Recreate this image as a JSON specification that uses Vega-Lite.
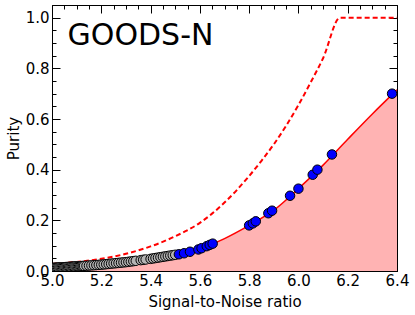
{
  "$schema": "https://vega.github.io/schema/vega-lite/v6.json",
  "width": 345,
  "height": 266,
  "autosize": {"type": "none"},
  "padding": {"left": 52, "top": 5, "right": 18, "bottom": 44},
  "background": "white",
  "config": {
    "view": {"stroke": "black", "strokeWidth": 1},
    "font": "DejaVu Sans",
    "axis": {
      "labelFont": "DejaVu Sans",
      "labelFontSize": 15,
      "labelColor": "black",
      "titleFont": "DejaVu Sans",
      "titleFontSize": 15,
      "titleFontWeight": "normal",
      "titleColor": "black",
      "domainColor": "black",
      "tickColor": "black",
      "grid": false,
      "labelOverlap": false,
      "labelFlush": false
    }
  },
  "datasets": {
    "solid": [
      {"snr": 5.0, "purity": 0.012},
      {"snr": 5.1, "purity": 0.018},
      {"snr": 5.2, "purity": 0.025},
      {"snr": 5.3, "purity": 0.035},
      {"snr": 5.4, "purity": 0.048},
      {"snr": 5.5, "purity": 0.064},
      {"snr": 5.6, "purity": 0.088},
      {"snr": 5.7, "purity": 0.128},
      {"snr": 5.8, "purity": 0.18},
      {"snr": 5.9, "purity": 0.24},
      {"snr": 6.0, "purity": 0.325},
      {"snr": 6.1, "purity": 0.418},
      {"snr": 6.2, "purity": 0.52},
      {"snr": 6.3, "purity": 0.62},
      {"snr": 6.4, "purity": 0.715}
    ],
    "dashed": [
      {"snr": 5.0, "purity": 0.028},
      {"snr": 5.1, "purity": 0.036},
      {"snr": 5.2, "purity": 0.048},
      {"snr": 5.3, "purity": 0.068},
      {"snr": 5.4, "purity": 0.097},
      {"snr": 5.5, "purity": 0.137},
      {"snr": 5.6, "purity": 0.19},
      {"snr": 5.7, "purity": 0.27},
      {"snr": 5.8, "purity": 0.375},
      {"snr": 5.85, "purity": 0.435},
      {"snr": 5.9, "purity": 0.5},
      {"snr": 6.0, "purity": 0.655},
      {"snr": 6.05, "purity": 0.745},
      {"snr": 6.1, "purity": 0.84},
      {"snr": 6.169, "purity": 1.0},
      {"snr": 6.4, "purity": 1.0}
    ],
    "pts": [
      {"snr": 5.00, "purity": 0.012, "grp": "low"},
      {"snr": 5.005, "purity": 0.0123, "grp": "low"},
      {"snr": 5.01, "purity": 0.0126, "grp": "low"},
      {"snr": 5.015, "purity": 0.0129, "grp": "low"},
      {"snr": 5.02, "purity": 0.0132, "grp": "low"},
      {"snr": 5.025, "purity": 0.0135, "grp": "low"},
      {"snr": 5.03, "purity": 0.0138, "grp": "low"},
      {"snr": 5.035, "purity": 0.0141, "grp": "low"},
      {"snr": 5.04, "purity": 0.0144, "grp": "low"},
      {"snr": 5.045, "purity": 0.0147, "grp": "low"},
      {"snr": 5.05, "purity": 0.015, "grp": "low"},
      {"snr": 5.055, "purity": 0.0153, "grp": "low"},
      {"snr": 5.06, "purity": 0.0156, "grp": "low"},
      {"snr": 5.065, "purity": 0.0159, "grp": "low"},
      {"snr": 5.07, "purity": 0.0162, "grp": "low"},
      {"snr": 5.075, "purity": 0.0165, "grp": "low"},
      {"snr": 5.08, "purity": 0.0168, "grp": "low"},
      {"snr": 5.085, "purity": 0.0171, "grp": "low"},
      {"snr": 5.09, "purity": 0.0174, "grp": "low"},
      {"snr": 5.095, "purity": 0.0177, "grp": "low"},
      {"snr": 5.10, "purity": 0.018, "grp": "low"},
      {"snr": 5.105, "purity": 0.0183, "grp": "low"},
      {"snr": 5.11, "purity": 0.0187, "grp": "low"},
      {"snr": 5.115, "purity": 0.019, "grp": "low"},
      {"snr": 5.12, "purity": 0.0194, "grp": "low"},
      {"snr": 5.125, "purity": 0.0197, "grp": "low"},
      {"snr": 5.13, "purity": 0.0201, "grp": "low"},
      {"snr": 5.14, "purity": 0.0208, "grp": "low"},
      {"snr": 5.15, "purity": 0.0215, "grp": "low"},
      {"snr": 5.16, "purity": 0.0222, "grp": "low"},
      {"snr": 5.17, "purity": 0.0229, "grp": "low"},
      {"snr": 5.18, "purity": 0.0236, "grp": "low"},
      {"snr": 5.19, "purity": 0.0243, "grp": "low"},
      {"snr": 5.20, "purity": 0.025, "grp": "low"},
      {"snr": 5.21, "purity": 0.026, "grp": "low"},
      {"snr": 5.22, "purity": 0.027, "grp": "low"},
      {"snr": 5.23, "purity": 0.028, "grp": "low"},
      {"snr": 5.24, "purity": 0.029, "grp": "low"},
      {"snr": 5.25, "purity": 0.030, "grp": "low"},
      {"snr": 5.26, "purity": 0.031, "grp": "low"},
      {"snr": 5.27, "purity": 0.032, "grp": "low"},
      {"snr": 5.28, "purity": 0.033, "grp": "low"},
      {"snr": 5.29, "purity": 0.034, "grp": "low"},
      {"snr": 5.30, "purity": 0.035, "grp": "low"},
      {"snr": 5.31, "purity": 0.0363, "grp": "low"},
      {"snr": 5.32, "purity": 0.0376, "grp": "low"},
      {"snr": 5.33, "purity": 0.0389, "grp": "low"},
      {"snr": 5.34, "purity": 0.0402, "grp": "low"},
      {"snr": 5.36, "purity": 0.0428, "grp": "low"},
      {"snr": 5.37, "purity": 0.0441, "grp": "low"},
      {"snr": 5.38, "purity": 0.0454, "grp": "low"},
      {"snr": 5.40, "purity": 0.048, "grp": "low"},
      {"snr": 5.41, "purity": 0.0496, "grp": "low"},
      {"snr": 5.42, "purity": 0.0512, "grp": "low"},
      {"snr": 5.43, "purity": 0.0528, "grp": "low"},
      {"snr": 5.44, "purity": 0.0544, "grp": "low"},
      {"snr": 5.45, "purity": 0.056, "grp": "low"},
      {"snr": 5.46, "purity": 0.0576, "grp": "low"},
      {"snr": 5.47, "purity": 0.0592, "grp": "low"},
      {"snr": 5.48, "purity": 0.0608, "grp": "low"},
      {"snr": 5.49, "purity": 0.0624, "grp": "low"},
      {"snr": 5.50, "purity": 0.064, "grp": "low"},
      {"snr": 5.515, "purity": 0.066, "grp": "high"},
      {"snr": 5.536, "purity": 0.070, "grp": "high"},
      {"snr": 5.56, "purity": 0.076, "grp": "high"},
      {"snr": 5.594, "purity": 0.085, "grp": "high"},
      {"snr": 5.607, "purity": 0.09, "grp": "high"},
      {"snr": 5.628, "purity": 0.098, "grp": "high"},
      {"snr": 5.64, "purity": 0.103, "grp": "high"},
      {"snr": 5.652, "purity": 0.108, "grp": "high"},
      {"snr": 5.80, "purity": 0.18, "grp": "high"},
      {"snr": 5.815, "purity": 0.188, "grp": "high"},
      {"snr": 5.827, "purity": 0.196, "grp": "high"},
      {"snr": 5.878, "purity": 0.228, "grp": "high"},
      {"snr": 5.893, "purity": 0.238, "grp": "high"},
      {"snr": 5.966, "purity": 0.297, "grp": "high"},
      {"snr": 6.0, "purity": 0.325, "grp": "high"},
      {"snr": 6.058, "purity": 0.38, "grp": "high"},
      {"snr": 6.077, "purity": 0.40, "grp": "high"},
      {"snr": 6.136, "purity": 0.46, "grp": "high"},
      {"snr": 6.38, "purity": 0.70, "grp": "high"}
    ],
    "label": [
      {"field": "GOODS-N", "snr": 5.063, "purity": 0.893}
    ]
  },
  "resolve": {"axis": {"x": "independent", "y": "independent"}},
  "layer": [
    {
      "data": {"name": "solid"},
      "mark": {"type": "area", "color": "#ffb3b3", "interpolate": "monotone", "clip": true},
      "encoding": {
        "x": {
          "field": "snr", "type": "quantitative",
          "scale": {"domain": [5.0, 6.4], "nice": false, "zero": false},
          "axis": {
            "orient": "bottom",
            "title": "Signal-to-Noise ratio",
            "titlePadding": 2,
            "values": [5.0,5.05,5.1,5.15,5.2,5.25,5.3,5.35,5.4,5.45,5.5,5.55,5.6,5.65,5.7,5.75,5.8,5.85,5.9,5.95,6.0,6.05,6.1,6.15,6.2,6.25,6.3,6.35,6.4],
            "labelExpr": "abs(datum.value*5 - round(datum.value*5)) < 0.001 ? format(datum.value, '.1f') : ''",
            "tickSize": {"condition": {"test": "abs(datum.value*5 - round(datum.value*5)) < 0.001", "value": -8}, "value": -4},
            "labelPadding": 10
          }
        },
        "y": {
          "field": "purity", "type": "quantitative",
          "scale": {"domain": [0, 1.05], "nice": false},
          "axis": {
            "orient": "left",
            "title": "Purity",
            "titlePadding": 4,
            "values": [0,0.05,0.1,0.15,0.2,0.25,0.3,0.35,0.4,0.45,0.5,0.55,0.6,0.65,0.7,0.75,0.8,0.85,0.9,0.95,1.0],
            "labelExpr": "abs(datum.value*5 - round(datum.value*5)) < 0.001 ? format(datum.value, '.1f') : ''",
            "tickSize": {"condition": {"test": "abs(datum.value*5 - round(datum.value*5)) < 0.001", "value": -8}, "value": -4},
            "labelPadding": 11
          }
        }
      }
    },
    {
      "data": {"name": "solid"},
      "mark": {"type": "line", "color": "#ff0000", "strokeWidth": 1.5, "interpolate": "monotone", "clip": true},
      "encoding": {
        "x": {
          "field": "snr", "type": "quantitative",
          "axis": {
            "orient": "top",
            "title": null,
            "labels": false,
            "values": [5.0,5.05,5.1,5.15,5.2,5.25,5.3,5.35,5.4,5.45,5.5,5.55,5.6,5.65,5.7,5.75,5.8,5.85,5.9,5.95,6.0,6.05,6.1,6.15,6.2,6.25,6.3,6.35,6.4],
            "tickSize": {"condition": {"test": "abs(datum.value*5 - round(datum.value*5)) < 0.001", "value": -8}, "value": -4}
          }
        },
        "y": {
          "field": "purity", "type": "quantitative",
          "axis": {
            "orient": "right",
            "title": null,
            "labels": false,
            "values": [0,0.05,0.1,0.15,0.2,0.25,0.3,0.35,0.4,0.45,0.5,0.55,0.6,0.65,0.7,0.75,0.8,0.85,0.9,0.95,1.0],
            "tickSize": {"condition": {"test": "abs(datum.value*5 - round(datum.value*5)) < 0.001", "value": -8}, "value": -4}
          }
        }
      }
    },
    {
      "data": {"name": "dashed"},
      "mark": {"type": "line", "color": "#ff0000", "strokeWidth": 2, "strokeDash": [5, 3], "interpolate": "monotone", "clip": true},
      "encoding": {
        "x": {"field": "snr", "type": "quantitative", "axis": null},
        "y": {"field": "purity", "type": "quantitative", "axis": null}
      }
    },
    {
      "data": {"name": "pts"},
      "mark": {"type": "point", "filled": true, "size": 90, "stroke": "black", "strokeWidth": 1, "opacity": 1, "clip": true},
      "encoding": {
        "x": {"field": "snr", "type": "quantitative", "axis": null},
        "y": {"field": "purity", "type": "quantitative", "axis": null},
        "fill": {"field": "grp", "type": "nominal", "scale": {"domain": ["low", "high"], "range": ["#b4b4b4", "#0000ff"]}, "legend": null}
      }
    },
    {
      "data": {"name": "label"},
      "mark": {"type": "text", "align": "left", "baseline": "alphabetic", "fontSize": 30, "font": "DejaVu Sans", "color": "black"},
      "encoding": {
        "x": {"field": "snr", "type": "quantitative", "axis": null},
        "y": {"field": "purity", "type": "quantitative", "axis": null},
        "text": {"field": "field", "type": "nominal"}
      }
    }
  ]
}
